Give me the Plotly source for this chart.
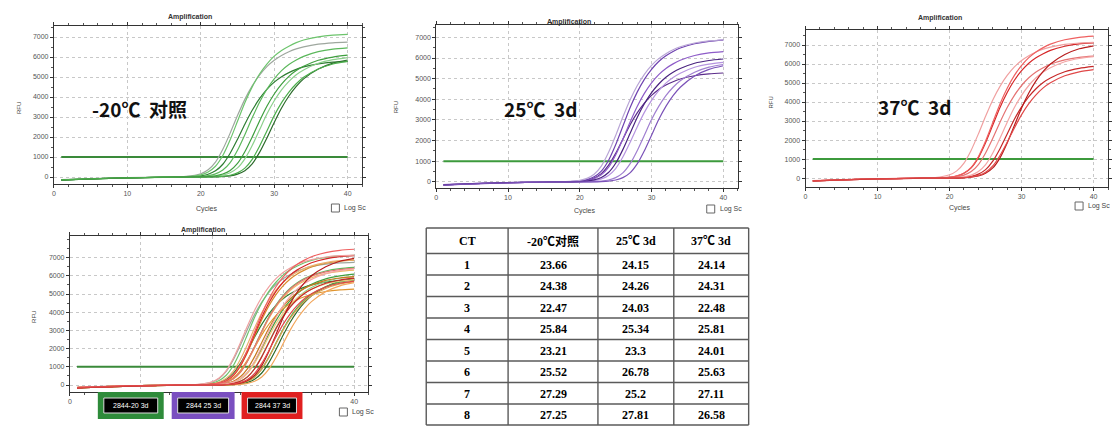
import plotly.graph_objects as go

W, H = 1118, 426


def px(x):
    return x / W


def py(y):
    return 1 - y / H


# ---------------- data ----------------
CYCLES = [1, 5, 10, 15, 18, 20, 21, 22, 23, 24, 25, 26, 27, 28, 29, 30, 31, 32, 33, 34, 36, 38, 40]

# -20C control, wells 1..8 (RFU read at CYCLES)
RFU_M20 = [
    [-140, -90, -40, -10, 6, 58, 139, 307, 638, 1189, 1885, 2639, 3335, 3915, 4379, 4744, 5017, 5220, 5382, 5504, 5655, 5742, 5777],
    [-150, -95, -45, -10, 0, 26, 65, 156, 345, 715, 1333, 2113, 2958, 3738, 4388, 4908, 5317, 5623, 5850, 6032, 6266, 6396, 6461],
    [-130, -80, -35, -5, 27, 162, 358, 743, 1384, 2194, 3071, 3881, 4556, 5096, 5522, 5839, 6075, 6264, 6406, 6507, 6642, 6710, 6740],
    [-160, -100, -50, -15, 0, 0, 12, 36, 91, 212, 454, 908, 1573, 2360, 3146, 3812, 4356, 4780, 5112, 5354, 5687, 5869, 5971],
    [-145, -90, -40, -10, 14, 107, 250, 536, 1073, 1859, 2789, 3718, 4505, 5148, 5649, 6042, 6328, 6542, 6721, 6850, 7007, 7093, 7129],
    [-150, -95, -45, -10, 0, 6, 25, 62, 148, 326, 677, 1261, 1999, 2798, 3536, 4151, 4643, 5031, 5320, 5535, 5836, 5996, 6089],
    [-155, -100, -45, -12, 0, 0, 0, 6, 24, 60, 144, 318, 660, 1230, 1950, 2730, 3450, 4050, 4530, 4908, 5400, 5694, 5850],
    [-140, -90, -40, -10, 0, 0, 0, 12, 35, 89, 207, 443, 885, 1534, 2301, 3068, 3717, 4248, 4661, 4986, 5399, 5652, 5782],
]

# 25C 3d
RFU_25 = [
    [-150, -95, -45, -10, 0, 32, 80, 186, 398, 795, 1378, 2067, 2756, 3339, 3816, 4187, 4479, 4691, 4850, 4982, 5141, 5231, 5274],
    [-140, -90, -40, -10, 0, 25, 64, 152, 337, 699, 1302, 2064, 2889, 3651, 4286, 4794, 5194, 5493, 5715, 5893, 6121, 6248, 6312],
    [-160, -100, -50, -15, 0, 41, 104, 242, 518, 1035, 1794, 2691, 3588, 4347, 4968, 5451, 5831, 6107, 6314, 6486, 6693, 6810, 6866],
    [-150, -95, -45, -10, 0, 6, 23, 59, 140, 310, 644, 1199, 1901, 2662, 3364, 3949, 4417, 4785, 5060, 5265, 5552, 5704, 5792],
    [-135, -85, -35, -5, 7, 69, 166, 366, 759, 1415, 2243, 3140, 3968, 4658, 5210, 5644, 5969, 6210, 6403, 6548, 6728, 6831, 6872],
    [-150, -95, -45, -10, 0, 0, 0, 12, 35, 87, 203, 435, 870, 1508, 2262, 3016, 3654, 4176, 4582, 4901, 5307, 5556, 5684],
    [-145, -90, -40, -10, 0, 12, 36, 90, 210, 450, 900, 1560, 2340, 3120, 3780, 4320, 4740, 5070, 5310, 5490, 5748, 5880, 5952],
    [-155, -100, -45, -12, 0, 0, 0, 0, 12, 35, 87, 203, 435, 870, 1508, 2262, 3016, 3654, 4176, 4582, 5133, 5452, 5626],
]

# 37C 3d
RFU_37 = [
    [-150, -95, -45, -10, 0, 43, 107, 250, 536, 1073, 1859, 2789, 3718, 4505, 5148, 5649, 6042, 6328, 6542, 6721, 6936, 7057, 7114],
    [-140, -90, -40, -10, 0, 26, 65, 155, 342, 710, 1322, 2096, 2935, 3709, 4354, 4870, 5276, 5579, 5805, 5986, 6218, 6347, 6411],
    [-130, -80, -35, -5, 29, 172, 379, 787, 1466, 2324, 3253, 4111, 4826, 5398, 5849, 6185, 6435, 6635, 6785, 6893, 7036, 7107, 7136],
    [-160, -100, -50, -15, 0, 0, 12, 36, 89, 208, 446, 893, 1547, 2321, 3094, 3749, 4284, 4701, 5028, 5266, 5593, 5772, 5873],
    [-145, -90, -40, -10, 0, 45, 113, 263, 563, 1125, 1950, 2925, 3900, 4725, 5400, 5925, 6338, 6638, 6863, 7050, 7275, 7403, 7463],
    [-150, -95, -45, -10, 0, 6, 26, 65, 155, 342, 710, 1322, 2096, 2935, 3709, 4354, 4870, 5276, 5579, 5805, 6121, 6289, 6386],
    [-155, -100, -45, -12, 0, 0, 0, 14, 43, 107, 249, 533, 1065, 1846, 2769, 3692, 4473, 5112, 5609, 6000, 6497, 6802, 6958],
    [-140, -90, -40, -10, 0, 0, 6, 23, 58, 139, 307, 638, 1189, 1885, 2639, 3335, 3915, 4379, 4744, 5017, 5382, 5591, 5707],
]

THRESHOLD = 1000
X_TICKS = [0, 10, 20, 30, 40]
Y_TICKS = [0, 1000, 2000, 3000, 4000, 5000, 6000, 7000]

WELLS = ["1", "2", "3", "4", "5", "6", "7", "8"]
CT_M20 = ["23.66", "24.38", "22.47", "25.84", "23.21", "25.52", "27.29", "27.25"]
CT_25 = ["24.15", "24.26", "24.03", "25.34", "23.3", "26.78", "25.2", "27.81"]
CT_37 = ["24.14", "24.31", "22.48", "25.81", "24.01", "25.63", "27.11", "26.58"]
TABLE_HEADER = ["CT", "-20℃对照", "25℃ 3d", "37℃ 3d"]

PANEL_LABELS = ["-20℃  对照", "25℃  3d", "37℃  3d"]
LEGEND_LABELS = ["2844-20 3d", "2844 25 3d", "2844 37 3d"]

# ---------------- styles ----------------
COL_M20 = ["#2e7d32", "#5cb85c", "#9ea79e", "#8cd18c", "#6cc46c", "#3f9f3f", "#2b6a2b", "#4daf4d"]
COL_25 = ["#5b2c8a", "#8e5cc8", "#6f42b0", "#b694e0", "#b9a6d6", "#a07fd0", "#4a2380", "#7b52b8"]
COL_37 = ["#d62728", "#e57373", "#f0a0a0", "#c62828", "#ef6060", "#f4a6a6", "#b71c1c", "#e04848"]
COL_25_MERGED = ["#e0952e", "#f0b860", "#d98c2b", "#f5c77e", "#eab070", "#d9a050", "#c77a20", "#f2a65a"]

# panel geometry in pixels
PANELS = [
    dict(x0=52, x1=361, yt=26, yb=184, yr=[-350, 7550]),
    dict(x0=435, x1=737, yt=25, yb=188, yr=[-300, 7600]),
    dict(x0=805, x1=1108, yt=30, yb=187, yr=[-470, 7790]),
    dict(x0=68, x1=367, yt=236, yb=392, yr=[-385, 8190]),
]

fig = go.Figure()


def add_curves(k, data, colors):
    xa = "x" if k == 1 else f"x{k}"
    ya = "y" if k == 1 else f"y{k}"
    for vals, c in zip(data, colors):
        fig.add_trace(go.Scatter(
            x=CYCLES, y=vals, mode="lines", xaxis=xa, yaxis=ya,
            line=dict(color=c, width=1.2, shape="spline", smoothing=0.7),
            hoverinfo="skip", showlegend=False))


def add_threshold(k, color):
    xa = "x" if k == 1 else f"x{k}"
    ya = "y" if k == 1 else f"y{k}"
    fig.add_trace(go.Scatter(
        x=[CYCLES[0], CYCLES[-1]], y=[THRESHOLD, THRESHOLD], mode="lines",
        xaxis=xa, yaxis=ya, line=dict(color=color, width=2),
        hoverinfo="skip", showlegend=False))


add_threshold(1, "#3a8a3a")
add_curves(1, RFU_M20, COL_M20)
add_threshold(2, "#3c9a3c")
add_curves(2, RFU_25, COL_25)
add_threshold(3, "#3c9a3c")
add_curves(3, RFU_37, COL_37)
add_threshold(4, "#3a8a3a")
add_curves(4, RFU_M20, COL_M20)
add_curves(4, RFU_25, COL_25_MERGED)
add_curves(4, RFU_37, COL_37)

layout = dict(
    width=W, height=H, margin=dict(l=0, r=0, t=0, b=0),
    paper_bgcolor="white", plot_bgcolor="white", showlegend=False,
    font=dict(family="Liberation Sans, DejaVu Sans", size=7, color="#444"),
)

annotations = []
shapes = []


def note(x, y, text, **kw):
    d = dict(x=px(x), y=py(y), xref="paper", yref="paper", text=text, showarrow=False,
             xanchor="center", yanchor="middle")
    d.update(kw)
    annotations.append(d)


for i, p in enumerate(PANELS):
    k = i + 1
    xkey = "xaxis" if k == 1 else f"xaxis{k}"
    ykey = "yaxis" if k == 1 else f"yaxis{k}"
    yanchor = "y" if k == 1 else f"y{k}"
    xanchor = "x" if k == 1 else f"x{k}"
    ticktext = [str(t) for t in X_TICKS] if k != 4 else ["0", "", "", "", "40"]
    layout[xkey] = dict(
        domain=[px(p["x0"]), px(p["x1"])], anchor=yanchor, range=[0, 42],
        tickvals=X_TICKS, ticktext=ticktext, ticks="outside", ticklen=3,
        tickcolor="#333", tickfont=dict(size=7, color="#555"),
        showline=True, linecolor="#333", linewidth=1, mirror="ticks",
        showgrid=True, gridcolor="#c8c8c8", griddash="dot", gridwidth=1,
        zeroline=False, fixedrange=True,
        minor=dict(dtick=2, tick0=0, ticks="outside", ticklen=2, tickcolor="#555", showgrid=False),
    )
    layout[ykey] = dict(
        domain=[py(p["yb"]), py(p["yt"])], anchor=xanchor, range=p["yr"],
        tickvals=Y_TICKS, ticks="outside", ticklen=3,
        tickcolor="#333", tickfont=dict(size=7, color="#555"),
        showline=True, linecolor="#333", linewidth=1, mirror="ticks",
        showgrid=True, gridcolor="#c8c8c8", griddash="dot", gridwidth=1,
        zeroline=False, fixedrange=True,
        minor=dict(dtick=500, ticks="outside", ticklen=2, tickcolor="#555", showgrid=False),
    )

# titles, axis labels
TITLE_POS = [(188, 17), (568, 22), (940, 18), (201, 230)]
CYC_POS = [(205, 209), (584, 211), (960, 208)]
RFU_POS = [(17, 108), (395, 107), (770, 103), (32, 317)]
LOG_POS = [(330, 208), (706, 209), (1075, 206), (338, 412)]

for (x, y) in TITLE_POS:
    note(x, y, "<b>Amplification</b>", font=dict(size=7, color="#333"))
for (x, y) in CYC_POS:
    note(x, y, "Cycles", font=dict(size=7, color="#444"))
for (x, y) in RFU_POS:
    note(x, y, "RFU", textangle=-90, font=dict(size=6, color="#444"))
for (x, y) in LOG_POS:
    shapes.append(dict(type="rect", xref="paper", yref="paper", x0=px(x), x1=px(x + 8),
                       y0=py(y + 4), y1=py(y - 4), line=dict(color="#666", width=1), fillcolor="white"))
    note(x + 11, y, "Log Sc", xanchor="left", font=dict(size=7, color="#444"))

# big panel labels
LABEL_POS = [(138, 108), (540, 108), (915, 106)]
for txt, (x, y) in zip(PANEL_LABELS, LABEL_POS):
    note(x, y, f"<b>{txt}</b>", font=dict(family="Noto Sans CJK SC", size=19, color="#111"))

# merged-plot legend boxes
LEG_BOX = [(96, 162, "#2e8b3a"), (170, 233, "#7a4fc0"), (240, 301, "#e02020")]
for (x0, x1, c), lab in zip(LEG_BOX, LEGEND_LABELS):
    shapes.append(dict(type="rect", xref="paper", yref="paper", x0=px(x0), x1=px(x1),
                       y0=py(419), y1=py(392), fillcolor=c, line=dict(width=0), layer="above"))
    shapes.append(dict(type="rect", xref="paper", yref="paper", x0=px(x0 + 6), x1=px(x1 - 6),
                       y0=py(413), y1=py(398), fillcolor="black", line=dict(color="#dddddd", width=1),
                       layer="above"))
    note((x0 + x1) / 2, 405.5, lab, font=dict(size=7, color="white"))

# table drawn as grid
COL_EDGES = [425, 507, 597, 673, 748]
ROW_EDGES = [228, 253.5, 275, 296.5, 318, 339.5, 361, 382.5, 404, 425]
LINE_C = "#5a5a5a"
for xe in COL_EDGES:
    shapes.append(dict(type="line", xref="paper", yref="paper", x0=px(xe), x1=px(xe),
                       y0=py(ROW_EDGES[0]), y1=py(ROW_EDGES[-1]), line=dict(color=LINE_C, width=1.4)))
for ye in ROW_EDGES:
    shapes.append(dict(type="line", xref="paper", yref="paper", x0=px(COL_EDGES[0]), x1=px(COL_EDGES[-1]),
                       y0=py(ye), y1=py(ye), line=dict(color=LINE_C, width=1.4)))

TFONT = "Liberation Serif, Noto Sans CJK SC"
columns = [WELLS, CT_M20, CT_25, CT_37]
for c, (head, col) in enumerate(zip(TABLE_HEADER, columns)):
    xc = (COL_EDGES[c] + COL_EDGES[c + 1]) / 2
    note(xc, (ROW_EDGES[0] + ROW_EDGES[1]) / 2 + 0.5, f"<b>{head}</b>",
         font=dict(family=TFONT, size=12, color="black"))
    for r, v in enumerate(col):
        yc = (ROW_EDGES[r + 1] + ROW_EDGES[r + 2]) / 2 + 0.5
        note(xc, yc, f"<b>{v}</b>", font=dict(family=TFONT, size=12, color="black"))

layout["annotations"] = annotations
layout["shapes"] = shapes
fig.update_layout(**layout)

fig.write_html("out.html")
